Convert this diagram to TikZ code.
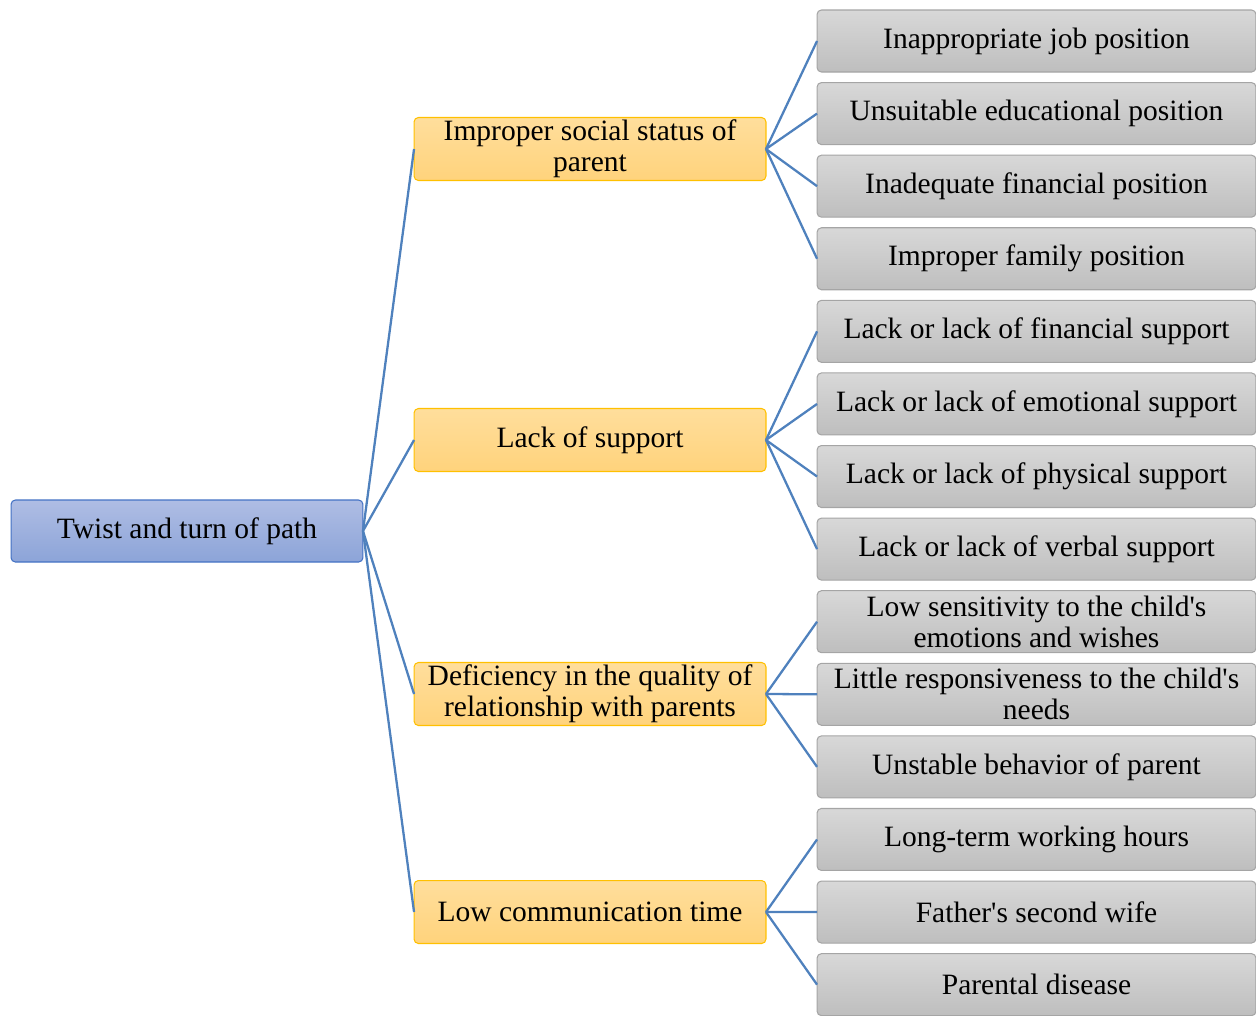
\documentclass[tikz,border=0pt]{standalone}
\usepackage{fontspec}
\setmainfont{Liberation Serif}
\usetikzlibrary{positioning}

\definecolor{roottop}{HTML}{AFBDE4}
\definecolor{rootbot}{HTML}{8CA4D8}
\definecolor{rootline}{HTML}{4472C4}
\definecolor{midtop}{HTML}{FFDE9C}
\definecolor{midbot}{HTML}{FFD37C}
\definecolor{midline}{HTML}{FFC000}
\definecolor{leaftop}{HTML}{D8D8D8}
\definecolor{leafbot}{HTML}{BEBEBE}
\definecolor{leafline}{HTML}{A5A5A5}
\definecolor{linkcol}{HTML}{4F81BD}

\begin{document}
\begin{tikzpicture}[x=0.02cm, y=-0.02cm, node distance=0.212cm,
        box/.style = {rounded corners=2.5pt, inner sep=0pt, outer sep=0pt, align=center, line width=0.6pt, font=\fontsize{16.8pt}{17.6pt}\selectfont},
        root/.style = {box, draw=rootline, top color=roottop, bottom color=rootbot, minimum width=7.04cm, minimum height=1.24cm},
        mid/.style = {box, draw=midline, top color=midtop, bottom color=midbot, minimum width=7.04cm, minimum height=1.26cm},
        leaf/.style = {box, draw=leafline, top color=leaftop, bottom color=leafbot, minimum width=8.78cm, minimum height=1.24cm},
        link/.style = {draw=linkcol, line width=1.3pt}]
                \useasboundingbox (0,0) rectangle (1256,1015);

                \node[leaf] (1) at (1036.5,41) {Inappropriate job position};
                \node[leaf] (2) [below = of 1] {Unsuitable educational position};
                \node[leaf] (3) [below = of 2] {Inadequate financial position};
                \node[leaf] (4) [below = of 3] {Improper family position};
                \node[leaf] (5) [below = of 4] {Lack or lack of financial support};
                \node[leaf] (6) [below = of 5] {Lack or lack of emotional support};
                \node[leaf] (7) [below = of 6] {Lack or lack of physical support};
                \node[leaf] (8) [below = of 7] {Lack or lack of verbal support};
                \node[leaf] (9) [below = of 8] {Low sensitivity to the child\textquotesingle s\\emotions and wishes};
                \node[leaf] (10) [below = of 9] {Little responsiveness to the child\textquotesingle s\\needs};
                \node[leaf] (11) [below = of 10] {Unstable behavior of parent};
                \node[leaf] (12) [below = of 11] {Long-term working hours};
                \node[leaf] (13) [below = of 12] {Father\textquotesingle s second wife};
                \node[leaf] (14) [below = of 13] {Parental disease};

                \node[mid] (A) at (590,149) {Improper social status of\\parent};
                \node[mid] (B) at (590,440) {Lack of support};
                \node[mid] (C) at (590,694) {Deficiency in the quality of\\relationship with parents};
                \node[mid] (D) at (590,912) {Low communication time};

                \node[root] (0) at (187,531) {Twist and turn of path};

                \foreach \m in {A,B,C,D}
                        \draw[link] (0.east) -- (\m.west);
                \foreach \l in {1,2,3,4}
                        \draw[link] (A.east) -- (\l.west);
                \foreach \l in {5,6,7,8}
                        \draw[link] (B.east) -- (\l.west);
                \foreach \l in {9,10,11}
                        \draw[link] (C.east) -- (\l.west);
                \foreach \l in {12,13,14}
                        \draw[link] (D.east) -- (\l.west);

            \end{tikzpicture}
\end{document}
